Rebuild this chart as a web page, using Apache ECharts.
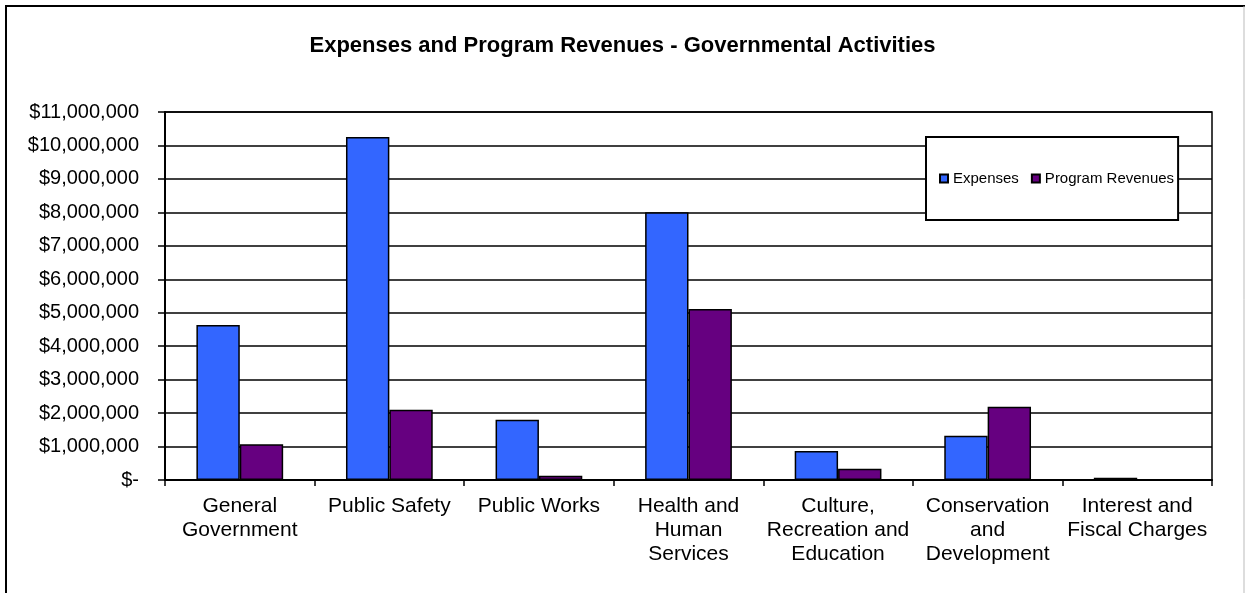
<!DOCTYPE html>
<html>
<head>
<meta charset="utf-8">
<script src="https://cdn.jsdelivr.net/npm/echarts@6/dist/echarts.min.js"></script>
<style>
  html, body { margin: 0; padding: 0; background: #fff; }
  #chart { width: 1245px; height: 593px; }
</style>
</head>
<body>
<div id="chart"></div>
<script>
const categories = [
  'General\nGovernment',
  'Public Safety',
  'Public Works',
  'Health and\nHuman\nServices',
  'Culture,\nRecreation and\nEducation',
  'Conservation\nand\nDevelopment',
  'Interest and\nFiscal Charges'
];
const expenses = [4630000, 10250000, 1800000, 8000000, 870000, 1320000, 70000];
const programRevenues = [1070000, 2100000, 130000, 5110000, 340000, 2190000, 0];
const yTicks = { min: 0, max: 11000000, interval: 1000000 };

const FONT = '"Liberation Sans", Arial, sans-serif';
const chart = echarts.init(document.getElementById('chart'), null, { renderer: 'canvas' });

chart.setOption({
  animation: false,
  backgroundColor: '#fff',
  textStyle: { fontFamily: FONT, color: '#000' },
  title: {
    text: 'Expenses and Program Revenues - Governmental Activities',
    left: 'center',
    top: 35,
    padding: 0,
    textStyle: { fontFamily: FONT, fontSize: 22, fontWeight: 'bold', color: '#000' }
  },
  legend: {
    left: 926,
    top: 137,
    orient: 'horizontal',
    padding: [34, 4, 34, 13],
    itemGap: 12,
    itemWidth: 8,
    itemHeight: 8,
    backgroundColor: '#fff',
    borderColor: '#000',
    borderWidth: 2,
    borderRadius: 0,
    icon: 'rect',
    textStyle: { fontFamily: FONT, fontSize: 15, color: '#000' },
    data: ['Expenses', 'Program Revenues']
  },
  grid: {
    left: 165,
    right: 33,
    top: 112,
    bottom: 113,
    show: true,
    borderColor: '#000',
    borderWidth: 1.5,
    containLabel: false
  },
  xAxis: {
    type: 'category',
    data: categories,
    axisLine: { show: true, lineStyle: { color: '#000', width: 2 } },
    axisTick: { show: true, length: 6, inside: false, lineStyle: { color: '#000', width: 1.5 } },
    axisLabel: {
      interval: 0,
      margin: 14,
      fontFamily: FONT,
      fontSize: 21,
      lineHeight: 24,
      color: '#000',
      align: 'center'
    },
    splitLine: { show: false }
  },
  yAxis: {
    type: 'value',
    min: yTicks.min,
    max: yTicks.max,
    interval: yTicks.interval,
    axisLine: { show: true, lineStyle: { color: '#000', width: 2 } },
    axisTick: { show: true, length: 7, lineStyle: { color: '#000', width: 1.5 } },
    axisLabel: {
      margin: 26,
      fontFamily: FONT,
      fontSize: 20,
      color: '#000',
      formatter: function (v) {
        return v === 0 ? '$-' : '$' + v.toLocaleString('en-US');
      }
    },
    splitLine: { show: true, lineStyle: { color: '#000', width: 1.5 } }
  },
  series: [
    {
      name: 'Expenses',
      type: 'bar',
      data: expenses,
      barGap: '0%',
      barCategoryGap: '42%',
      itemStyle: { color: '#3366FF', borderColor: '#000', borderWidth: 1.5 }
    },
    {
      name: 'Program Revenues',
      type: 'bar',
      data: programRevenues,
      barGap: '0%',
      barCategoryGap: '42%',
      itemStyle: { color: '#660080', borderColor: '#000', borderWidth: 1.5 }
    }
  ],
  graphic: [
    {
      type: 'rect',
      silent: true,
      z: 100,
      shape: { x: 6, y: 6, width: 1250, height: 620 },
      style: { fill: 'none', stroke: '#000', lineWidth: 2 }
    },
    {
      type: 'line',
      silent: true,
      z: 100,
      shape: { x1: 1244, y1: 6, x2: 1244, y2: 593 },
      style: { stroke: '#bbb', lineWidth: 1 }
    }
  ]
});
</script>
</body>
</html>
